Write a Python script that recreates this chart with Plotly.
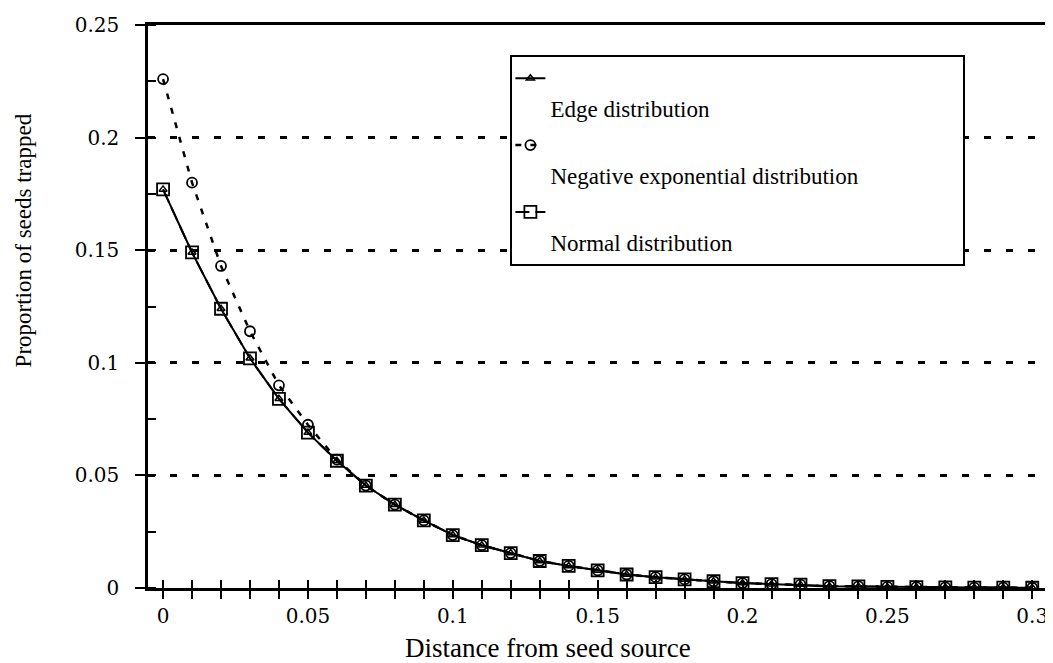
import plotly.graph_objects as go

# ---- data ----
distance = [0.00, 0.01, 0.02, 0.03, 0.04, 0.05, 0.06, 0.07, 0.08, 0.09,
            0.10, 0.11, 0.12, 0.13, 0.14, 0.15, 0.16, 0.17, 0.18, 0.19,
            0.20, 0.21, 0.22, 0.23, 0.24, 0.25, 0.26, 0.27, 0.28, 0.29, 0.30]

edge = [0.177, 0.149, 0.124, 0.102, 0.084, 0.069, 0.0565, 0.0455, 0.037, 0.030,
        0.0235, 0.019, 0.0155, 0.012, 0.0098, 0.0078, 0.006, 0.0048, 0.0038, 0.003,
        0.0022, 0.0017, 0.0015, 0.0008, 0.0007, 0.0005, 0.0004, 0.0003, 0.0002, 0.0002, 0.0001]

neg_exp = [0.226, 0.180, 0.143, 0.114, 0.090, 0.0725, 0.057, 0.0455, 0.037, 0.030,
           0.0235, 0.019, 0.0155, 0.012, 0.0098, 0.0078, 0.006, 0.0048, 0.0038, 0.003,
           0.0022, 0.0017, 0.0015, 0.0008, 0.0007, 0.0005, 0.0004, 0.0003, 0.0002, 0.0002, 0.0001]

normal = [0.177, 0.149, 0.124, 0.102, 0.084, 0.069, 0.0565, 0.0455, 0.037, 0.030,
          0.0235, 0.019, 0.0155, 0.012, 0.0098, 0.0078, 0.006, 0.0048, 0.0038, 0.003,
          0.0022, 0.0017, 0.0015, 0.0008, 0.0007, 0.0005, 0.0004, 0.0003, 0.0002, 0.0002, 0.0001]

series_names = ["Edge distribution", "Negative exponential distribution", "Normal distribution"]

x_tickvals = [0, 0.05, 0.1, 0.15, 0.2, 0.25, 0.3]
x_ticktext = ["0", "0.05", "0.1", "0.15", "0.2", "0.25", "0.3"]
y_tickvals = [0, 0.05, 0.1, 0.15, 0.2, 0.25]
y_ticktext = ["0", "0.05", "0.1", "0.15", "0.2", "0.25"]

x_title = "Distance from seed source"
y_title = "Proportion of seeds trapped"

SERIF = "Liberation Serif, Times New Roman, serif"
TICKFONT = "DejaVu Serif, serif"
X_RANGE = [-0.0052, 0.3044]

fig = go.Figure()

fig.add_trace(go.Scatter(
    x=distance, y=edge, name="<br>" + series_names[0], mode="lines+markers",
    legendgroup="edge",
    line=dict(color="black", width=2),
    marker=dict(symbol="triangle-up-open", size=7, color="black", line=dict(width=1.5, color="black")),
))
fig.add_trace(go.Scatter(
    x=distance, y=neg_exp, name="<br>" + series_names[1], mode="lines+markers",
    legendgroup="negexp",
    line=dict(color="black", width=2.5, dash="6px,9px"),
    marker=dict(symbol="circle-open", size=10, color="black", line=dict(width=1.8, color="black")),
))
fig.add_trace(go.Scatter(
    x=distance, y=normal, name="<br>" + series_names[2], mode="lines+markers",
    legendgroup="normal",
    xaxis="x2",
    line=dict(color="black", width=2, dash="14px,6px"),
    marker=dict(symbol="square-open", size=12, color="black", line=dict(width=1.8, color="black")),
))

fig.update_layout(
    width=1045, height=655,
    margin=dict(l=140, r=5, t=14, b=75),
    paper_bgcolor="white", plot_bgcolor="white",
    font=dict(family=SERIF, color="black"),
    xaxis=dict(
        range=X_RANGE, tickmode="array", tickvals=x_tickvals, ticktext=x_ticktext,
        ticks="outside", ticklen=8, tickwidth=2, tickcolor="black",
        minor=dict(ticks="outside", dtick=0.01, tick0=0, ticklen=8, tickwidth=2, tickcolor="black", showgrid=False),
        showline=True, linewidth=2.5, linecolor="black", mirror=True,
        showgrid=False, zeroline=False,
        tickfont=dict(family=TICKFONT, size=20, color="black"),
        ticklabelstandoff=0,
    ),
    xaxis2=dict(
        range=X_RANGE, overlaying="x", anchor="y", side="bottom",
        tickmode="linear", tick0=0, dtick=0.01,
        ticks="inside", ticklen=8, tickwidth=2, tickcolor="black",
        showticklabels=False, showline=False, showgrid=False, zeroline=False,
    ),
    yaxis=dict(
        range=[0, 0.25], tickmode="array", tickvals=y_tickvals, ticktext=y_ticktext,
        ticks="outside", ticklen=10, tickwidth=2, tickcolor="black",
        minor=dict(ticks="inside", dtick=0.025, tick0=0, ticklen=8, tickwidth=2, tickcolor="black", showgrid=False),
        showline=True, linewidth=2.5, linecolor="black", mirror=True,
        showgrid=True, gridcolor="black", gridwidth=2.5, griddash="7px,15px",
        zeroline=False,
        tickfont=dict(family=TICKFONT, size=20, color="black"),
        ticklabelstandoff=12,
    ),
    legend=dict(
        orientation="h", entrywidth=408, entrywidthmode="pixels",
        x=0.404, y=0.947, xanchor="left", yanchor="top",
        bgcolor="white", bordercolor="black", borderwidth=2,
        font=dict(family=SERIF, size=23, color="black"),
        valign="top", itemwidth=30, tracegroupgap=4,
    ),
    showlegend=True,
    annotations=[
        dict(text=x_title, xref="paper", yref="paper", x=0.4456, y=-0.106,
             xanchor="center", yanchor="middle", showarrow=False,
             font=dict(family=SERIF, size=27, color="black")),
        dict(text=y_title, xref="paper", yref="paper", x=-0.139, y=0.618,
             xanchor="center", yanchor="middle", showarrow=False, textangle=-90,
             font=dict(family=SERIF, size=23, color="black")),
    ],
)

fig.write_html("out.html")
